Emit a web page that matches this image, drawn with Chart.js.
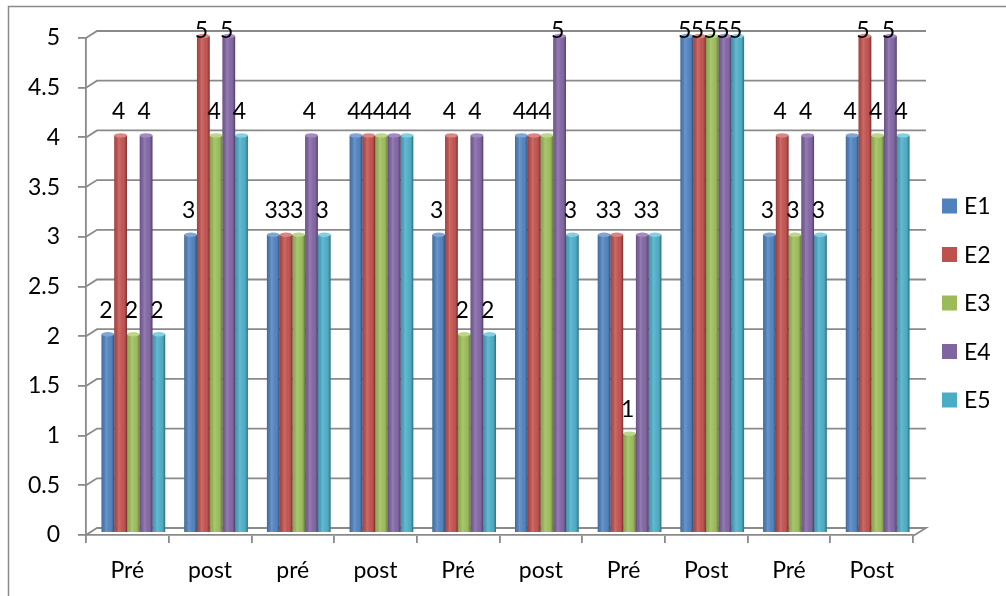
<!DOCTYPE html>
<html>
<head>
<meta charset="utf-8">
<script src="https://cdn.jsdelivr.net/npm/chart.js@4/dist/chart.umd.min.js"></script>
<style>
html,body{margin:0;padding:0;background:#fff;}
#wrap{position:absolute;left:0;top:0;width:1006px;height:596px;}
</style>
</head>
<body>
<div id="wrap"><canvas id="c" width="1006" height="596"></canvas></div>
<script>
const categories = ['Pré','post','pré','post','Pré','post','Pré','Post','Pré','Post'];
const seriesNames = ['E1','E2','E3','E4','E5'];
const E1 = [2,3,3,4,3,4,3,5,3,4];
const E2 = [4,5,3,4,4,4,3,5,4,5];
const E3 = [2,4,3,4,2,4,1,5,3,4];
const E4 = [4,5,4,4,4,5,3,5,4,5];
const E5 = [2,4,3,4,2,3,3,5,3,4];
const yTicks = [0,0.5,1,1.5,2,2.5,3,3.5,4,4.5,5];
const colors = ['#4F81BD','#C0504D','#9BBB59','#8064A2','#4BACC6'];
const caps = ['#7fa6d6','#d98684','#bcd68a','#a48ac2','#86cfe0'];

const FONT = {family:'Lato, "Noto Sans", sans-serif', size:23};
const GRID = '#8a8a8a';
const DX = 6, DY = -2;      // depth shift of bars
const WX = 11, WY = -7;     // back wall offset

const seriesValues = [E1,E2,E3,E4,E5];

const framePlugin = {
  id:'frame',
  beforeDraw(chart){
    const ctx = chart.ctx;
    ctx.save();
    ctx.fillStyle='#fff';
    ctx.fillRect(0,0,chart.width,chart.height);
    ctx.strokeStyle='#8a8a8a';
    ctx.lineWidth=1.5;
    ctx.beginPath();
    ctx.moveTo(chart.width+5,6.5);
    ctx.lineTo(8.5,6.5);
    ctx.lineTo(8.5,chart.height+5);
    ctx.stroke();
    ctx.restore();
  },
  beforeDatasetsDraw(chart){
    const ctx = chart.ctx, a = chart.chartArea, y = chart.scales.y;
    ctx.save();
    ctx.strokeStyle=GRID;
    ctx.lineWidth=1.8;
    y.ticks.forEach(t=>{
      const py = y.getPixelForValue(t.value);
      ctx.beginPath();
      ctx.moveTo(a.left,py);
      ctx.lineTo(a.left+WX,py+WY);
      ctx.lineTo(a.right+13,py+WY);
      if(t.value===0){ ctx.lineTo(a.right, py+1); }
      ctx.stroke();
    });
    ctx.restore();
    ctx.save();
    ctx.translate(DX,DY);
  },
  afterDatasetsDraw(chart){
    const ctx = chart.ctx;
    // cylinder shading
    chart.data.datasets.forEach((ds,di)=>{
      const meta = chart.getDatasetMeta(di);
      meta.data.forEach(bar=>{
        const w = bar.width, x0 = bar.x - w/2, top = bar.y, base = bar.base;
        const g = ctx.createLinearGradient(x0,0,x0+w,0);
        g.addColorStop(0,'rgba(0,0,0,0.22)');
        g.addColorStop(0.12,'rgba(0,0,0,0.05)');
        g.addColorStop(0.35,'rgba(255,255,255,0.16)');
        g.addColorStop(0.65,'rgba(255,255,255,0.02)');
        g.addColorStop(0.9,'rgba(0,0,0,0.18)');
        g.addColorStop(1,'rgba(0,0,0,0.38)');
        ctx.fillStyle=g;
        ctx.fillRect(x0,top,w,base-top);
        ctx.beginPath();
        ctx.ellipse(bar.x,top,w/2,2.2,0,0,Math.PI*2);
        ctx.fillStyle=caps[di];
        ctx.fill();
      });
    });
    ctx.restore();
    // data labels
    ctx.save();
    ctx.font = FONT.size+'px '+FONT.family;
    ctx.fillStyle='#000';
    ctx.textAlign='center';
    ctx.textBaseline='middle';
    chart.data.datasets.forEach((ds,di)=>{
      const meta = chart.getDatasetMeta(di);
      meta.data.forEach((bar,i)=>{
        ctx.fillText(String(ds.data[i]), bar.x+DX-2, Math.max(bar.y-26, 31));
      });
    });
    // legend
    const lx = 942, ly0 = 206, step = 48.5;
    ctx.textAlign='left';
    chart.data.datasets.forEach((ds,di)=>{
      const cy = ly0 + di*step;
      ctx.fillStyle=colors[di];
      ctx.fillRect(lx,cy-7.5,15,15);
      ctx.fillStyle='#000';
      ctx.fillText(ds.label, lx+22, cy+1);
    });
    ctx.restore();
  }
};

new Chart(document.getElementById('c'),{
  type:'bar',
  data:{
    labels:categories,
    datasets: seriesNames.map((n,i)=>({
      label:n,
      data:seriesValues[i],
      backgroundColor:colors[i],
      borderWidth:0,
      categoryPercentage:0.77,
      barPercentage:1.0
    }))
  },
  options:{
    responsive:false,
    animation:false,
    devicePixelRatio:1,
    layout:{padding:{top:38,right:93,left:0,bottom:0}},
    plugins:{legend:{display:false},tooltip:{enabled:false}},
    scales:{
      x:{
        afterFit:(s)=>{s.height=61;},
        grid:{offset:true,drawOnChartArea:false,tickLength:8,color:GRID,lineWidth:1.8},
        border:{display:true,color:GRID,width:1.8},
        ticks:{color:'#000',font:FONT,padding:14,maxRotation:0}
      },
      y:{
        min:0,max:5,
        afterFit:(s)=>{s.width=86;},
        afterBuildTicks:(s)=>{s.ticks = yTicks.map(v=>({value:v}));},
        grid:{drawOnChartArea:false,tickLength:8,color:GRID,lineWidth:1.8},
        border:{display:true,color:GRID,width:1.8},
        ticks:{color:'#000',font:FONT,padding:18,callback:(v)=>String(v)}
      }
    }
  },
  plugins:[framePlugin]
});
</script>
</body>
</html>
